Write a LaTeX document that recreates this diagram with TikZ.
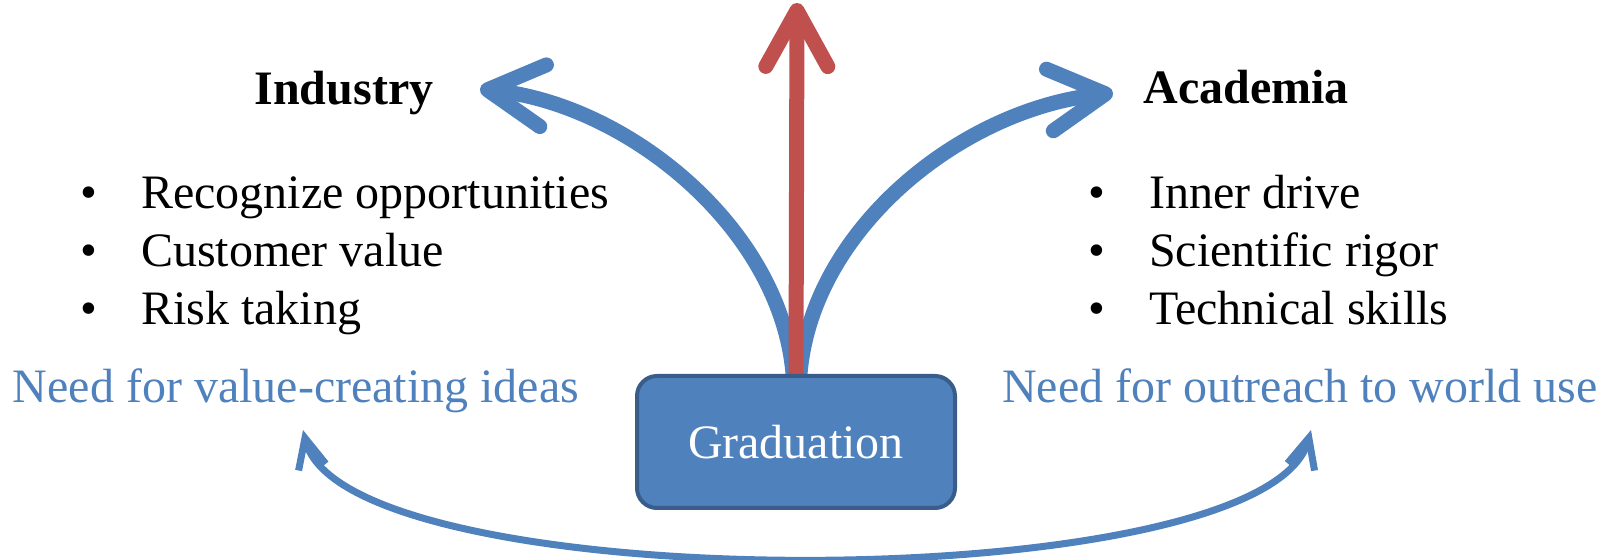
\documentclass[tikz,border=0pt]{standalone}
\usepackage{fontspec}
\setmainfont{Liberation Serif}
\usetikzlibrary{arrows.meta}
\usetikzlibrary{positioning}
\usetikzlibrary{backgrounds}
\definecolor{pptblue}{HTML}{4F81BD}
\definecolor{pptdark}{HTML}{385D8A}
\definecolor{pptred}{HTML}{C0504D}
\newcommand{\bul}{\textbullet\hspace{22pt}}

\begin{document}
\begin{tikzpicture}
	[x=0.5pt,y=-0.5pt,
	txt/.style={inner sep=0pt,font=\fontsize{24}{29}\selectfont},
	head/.style={txt,font=\fontsize{24}{29}\selectfont\bfseries,anchor=base},
	item/.style={txt,anchor=base west},
	need/.style={txt,text=pptblue,anchor=base},
	box/.style={rectangle,rounded corners=10pt,draw=pptdark,line width=2pt,fill=pptblue,
		text=white,minimum width=159pt,minimum height=66pt,font=\fontsize{24}{29}\selectfont},
	road/.style={line width=7.5pt,-{Straight Barb[length=28pt,width=31pt,round]}},
	back/.style={line width=3.5pt,pptblue,
		{Straight Barb[length=15pt,width=14pt]}-{Straight Barb[length=15pt,width=14pt]}}]
	\useasboundingbox (0,0) rectangle (1612,560);
	% the two paths
	\node [head] (industry) at (344,105) {Industry};
	\node [head] (academia) at (1246,104) {Academia};
	\foreach \t [count=\i] in {Recognize opportunities,Customer value,Risk taking}
		\node [item] (ind\i) at (80,151+58*\i) {\bul\t};
	\foreach \t [count=\i] in {Inner drive,Scientific rigor,Technical skills}
		\node [item] (aca\i) at (1088,151+58*\i) {\bul\t};
	\node [need] (needval) at (296,403) {Need for value-creating ideas};
	\node [need] (needout) at (1300,403) {Need for outreach to world use};
	% start point
	\node [box] (grad) at (796,442) {Graduation};
	\coordinate (indtip) at (480,89);
	\coordinate (acatip) at (1113,93);
	\coordinate (uptip) at (797,3);
	\coordinate (valtip) at (303,430);
	\coordinate (outtip) at (1311,430);
	\begin{scope}[on background layer]
		\draw[road,pptblue] ([xshift=-1.5pt]grad.north) .. controls (781,230) and (630,105) .. (indtip);
		\draw[road,pptblue] ([xshift=2pt]grad.north) .. controls (812,230) and (960,110) .. (acatip);
		\draw[road,pptred] (grad.north) -- (uptip);
	\end{scope}
	\draw[back] (valtip) .. controls (345,600) and (1265,600) .. (outtip);
\end{tikzpicture}
\end{document}
